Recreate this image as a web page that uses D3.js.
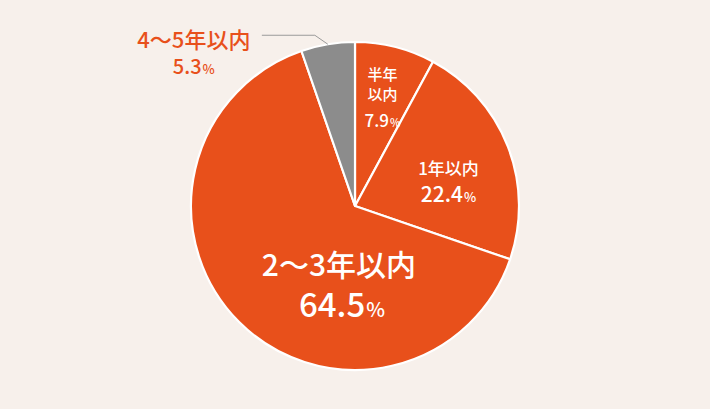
<!DOCTYPE html>
<html><head><meta charset="utf-8">
<script src="https://cdn.jsdelivr.net/npm/d3@7"></script>
<style>
html,body{margin:0;padding:0;background:#f7f0eb;}
svg{display:block;}
text{font-family:"Noto Sans CJK JP","Noto Sans",sans-serif;}
</style></head>
<body>
<script>
const categories = ["半年以内", "1年以内", "2〜3年以内", "4〜5年以内"];
const values = [7.9, 22.4, 64.5, 5.3];
const colors = ["#e8501b", "#e8501b", "#e8501b", "#8c8c8c"];

const W = 710, H = 409;
const cx = 355, cy = 206, R = 164;

const svg = d3.select("body").append("svg").attr("width", W).attr("height", H);
svg.append("rect").attr("width", W).attr("height", H).attr("fill", "#f7f0eb");

const pie = d3.pie().sort(null).value(d => d)(values);
const arc = d3.arc().innerRadius(0).outerRadius(R);
const g = svg.append("g").attr("transform", `translate(${cx},${cy})`);

g.selectAll("path").data(pie).join("path")
  .attr("d", arc)
  .attr("fill", (d, i) => colors[i])
  .attr("stroke", "#ffffff")
  .attr("stroke-width", 2.2)
  .attr("stroke-linejoin", "round");

function polar(angle, r) { return [r * Math.sin(angle), -r * Math.cos(angle)]; }
function mid(d) { return (d.startAngle + d.endAngle) / 2; }

// one text element per label; lines as tspans
function label(parent, x, y, fill, lines) {
  const t = parent.append("text").attr("transform", `translate(${x},${y})`)
    .attr("fill", fill).attr("font-weight", 500).attr("text-anchor", "middle");
  lines.forEach(l => {
    if (l.pct !== undefined) {
      const s = t.append("tspan").attr("x", l.x).attr("y", l.y);
      s.text(null);
      t.append("tspan").attr("x", l.x).attr("y", l.y).attr("font-size", l.size)
        .text(l.pct.toFixed(1))
        .append("tspan").attr("font-size", l.pSize).attr("dx", 1).text("%");
      s.remove();
    } else {
      t.append("tspan").attr("x", l.x).attr("y", l.y).attr("font-size", l.size).text(l.text);
    }
  });
  return t;
}

// 半年以内
{
  const [x, y] = polar(mid(pie[0]), 112);
  label(g, x, y, "#fff", [
    { text: "半年", x: 0, y: -17, size: 15 },
    { text: "以内", x: 0, y: 3, size: 15 },
    { pct: values[0], x: 0, y: 30, size: 17, pSize: 11 }
  ]);
}
// 1年以内
{
  const [x, y] = polar(mid(pie[1]), 95);
  label(g, x, y, "#fff", [
    { text: "1年以内", x: 5, y: 4, size: 17 },
    { pct: values[1], x: 5, y: 31, size: 21, pSize: 13 }
  ]);
}
// 2〜3年以内
{
  const [x, y] = polar(mid(pie[2]), 68);
  label(g, x, y, "#fff", [
    { text: "2〜3年以内", x: 32, y: 22, size: 30 },
    { pct: values[2], x: 35, y: 63, size: 33, pSize: 20 }
  ]);
}
// 4〜5年以内 (outside with leader)
{
  const [x0, y0] = polar(mid(pie[3]), R);
  const elbow = [x0 - 13, y0 - 9];
  const end = [elbow[0] - 53, elbow[1]];
  g.append("polyline")
    .attr("points", [[x0, y0], elbow, end].map(p => p.join(",")).join(" "))
    .attr("fill", "none").attr("stroke", "#9a9a9a").attr("stroke-width", 1);
  label(g, end[0] - 68, end[1], "#e8501b", [
    { text: "4〜5年以内", x: 0, y: 13, size: 22 },
    { pct: values[3], x: 0, y: 39, size: 20, pSize: 13 }
  ]);
}
</script>
</body></html>
